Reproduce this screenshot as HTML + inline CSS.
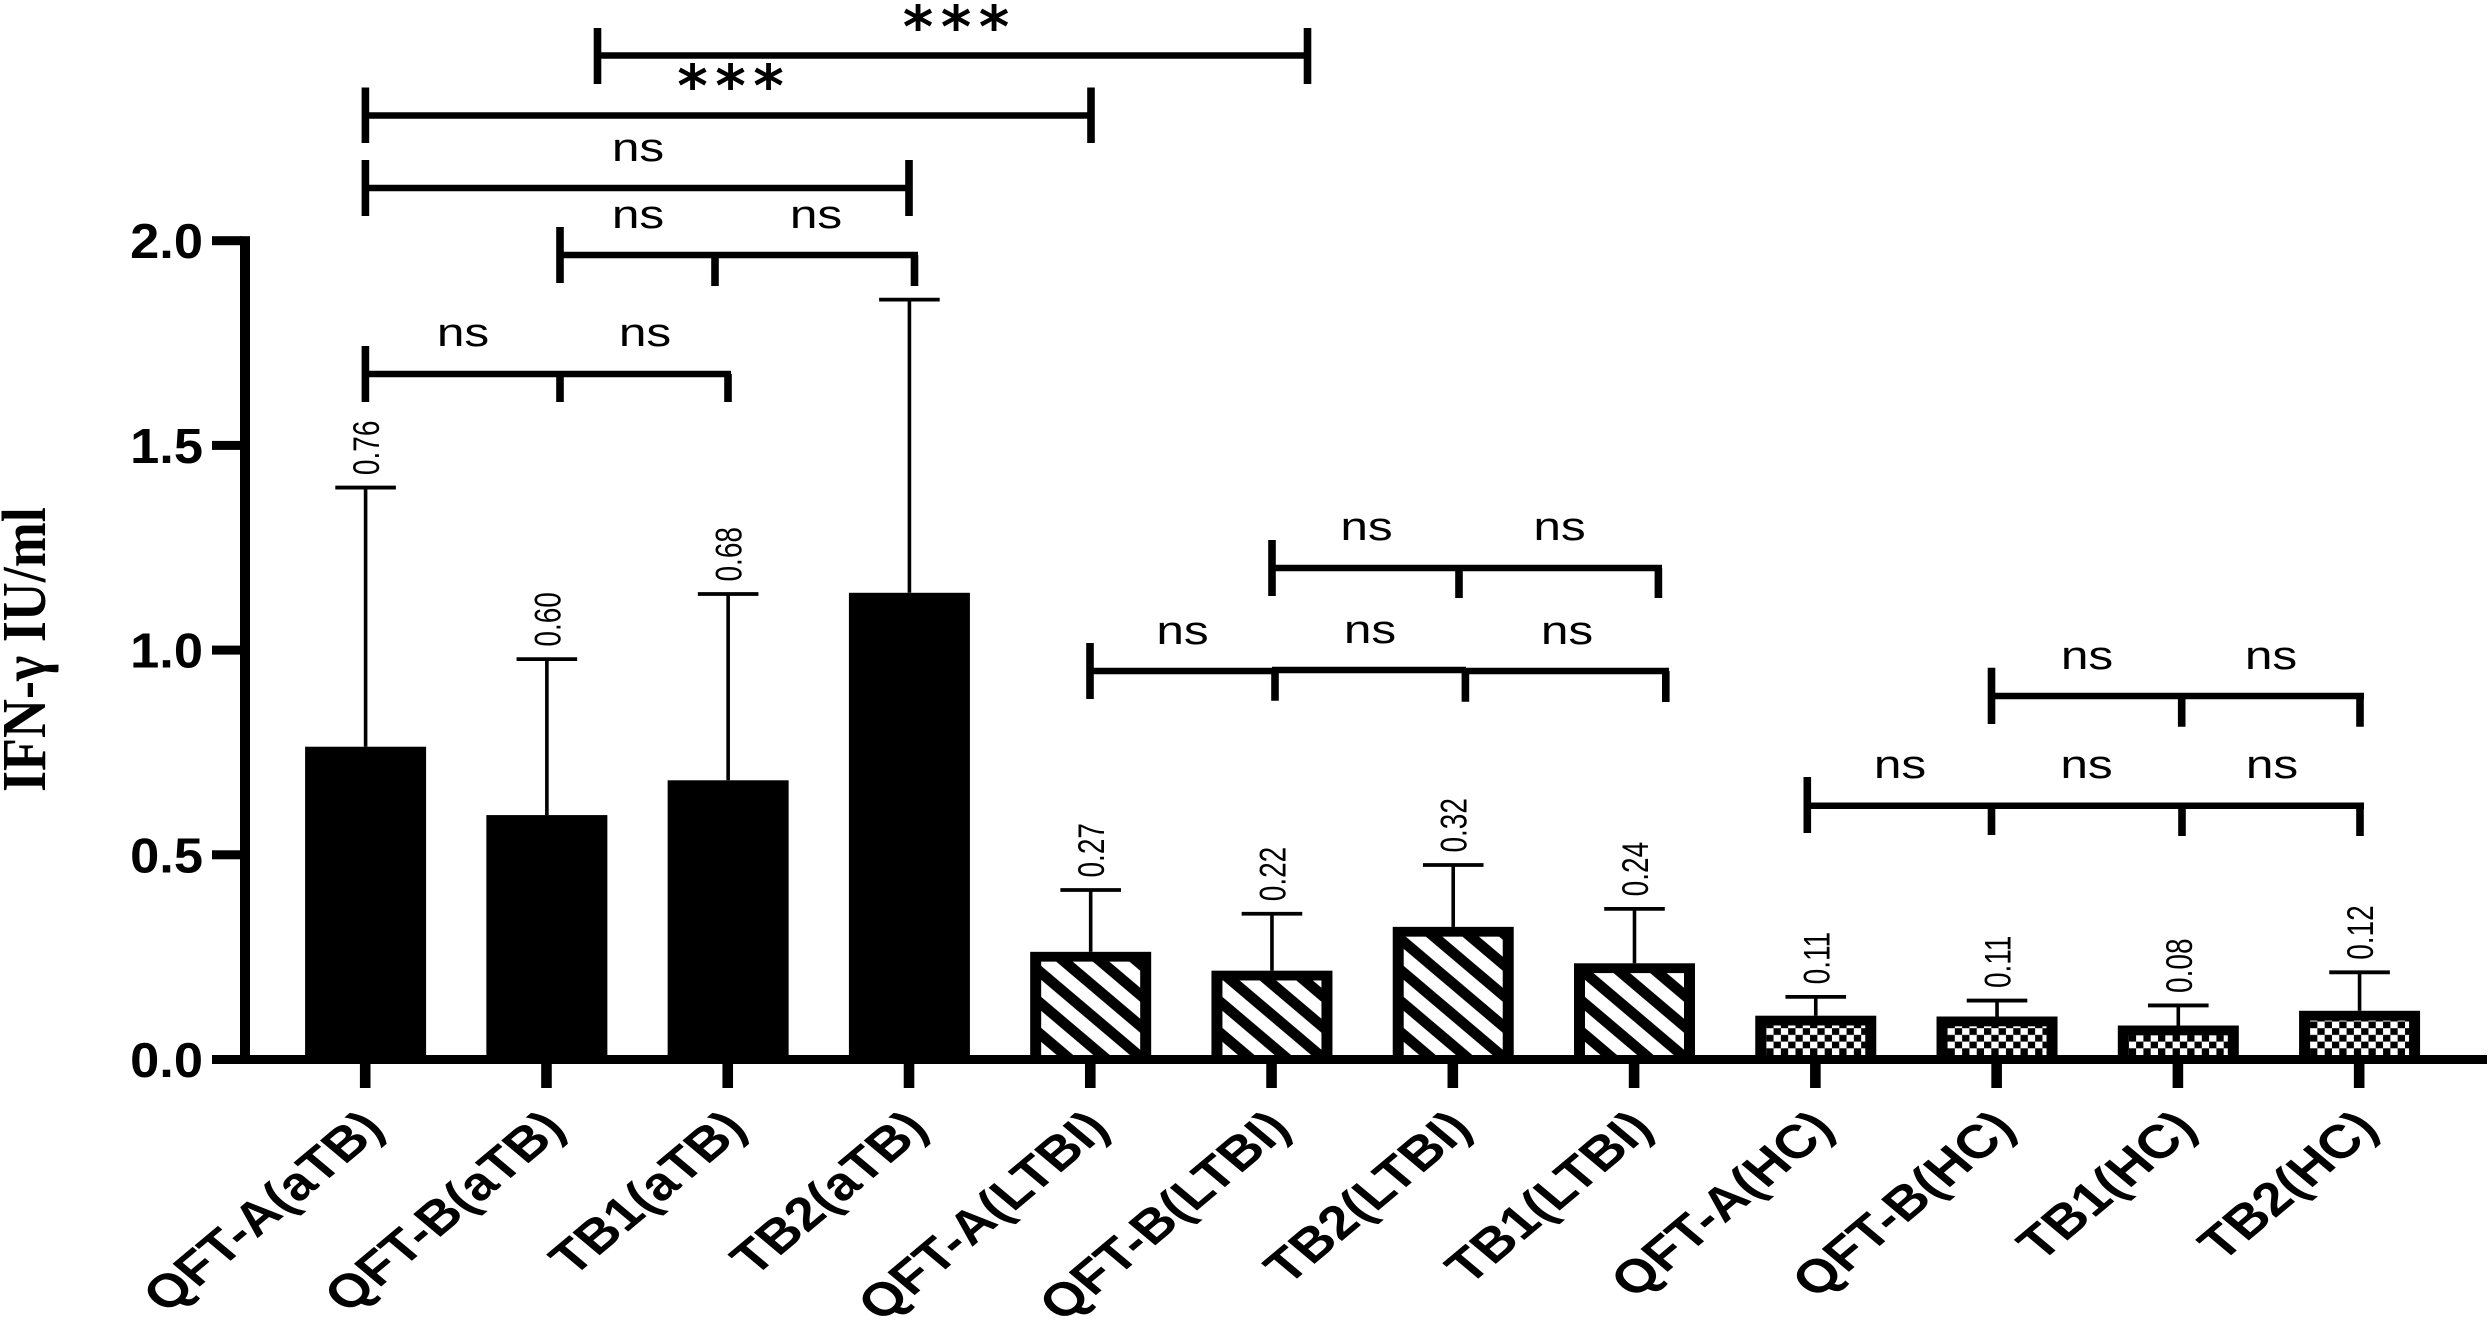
<!DOCTYPE html>
<html>
<head>
<meta charset="utf-8">
<title>IFN-γ bar chart</title>
<style>
html,body{margin:0;padding:0;background:#fff;}
svg{display:block;}
text{fill:#000;font-family:"Liberation Sans",sans-serif;}
.h,.v{fill:none;stroke:#000;}
.h{stroke-width:6.5;}
.v{stroke-width:7.6;}
.ns{font-size:40px;text-anchor:middle;}
.star{font-family:"DejaVu Sans",sans-serif;font-weight:bold;font-size:58px;text-anchor:middle;}
</style>
</head>
<body>
<svg id="chart" xmlns="http://www.w3.org/2000/svg" width="2492" height="1324" viewBox="0 0 2492 1324">
<defs id="defs"></defs>
<rect x="0" y="0" width="2492" height="1324" fill="#fff"/>
<text transform="translate(45,792) scale(1.15,1) rotate(-90)" style="font-family:'Liberation Serif',serif;font-weight:bold;font-size:54px">IFN-γ IU/ml</text>
<g id="bars"></g>
<g id="axes"></g>

<g>
  <g>
    <path class="h" d="M597.5 55.5H1308"/><path class="v" d="M597.5 28V84M1307.5 28V84"/>
  </g>
  <text class="star" transform="translate(918,47)">*</text>
  <text class="star" transform="translate(956,47)">*</text>
  <text class="star" transform="translate(994,47)">*</text>

  <g>
    <path class="h" d="M365.4 115.5H1091"/><path class="v" d="M365.4 87.5V143M1091 87.5V143"/>
  </g>
  <text class="star" transform="translate(692.5,106)">*</text>
  <text class="star" transform="translate(730.5,106)">*</text>
  <text class="star" transform="translate(768.5,106)">*</text>

  <g>
    <path class="h" d="M365.4 188H909"/><path class="v" d="M365.4 160V216M909 160V216"/>
  </g>
  <text class="ns" transform="translate(638,161) scale(1.24,1)">ns</text>

  <g>
    <path class="h" d="M560 255H918"/><path class="v" d="M560 227V283M715 255V286M914.5 255V286"/>
  </g>
  <text class="ns" transform="translate(638,228) scale(1.24,1)">ns</text>
  <text class="ns" transform="translate(816,228) scale(1.24,1)">ns</text>

  <g>
    <path class="h" d="M365.4 374H731"/><path class="v" d="M365.4 346V402M560 374V402M728 374V402"/>
  </g>
  <text class="ns" transform="translate(463,346) scale(1.24,1)">ns</text>
  <text class="ns" transform="translate(645,346) scale(1.24,1)">ns</text>

  <g>
    <path class="h" d="M1272 568H1662"/><path class="v" d="M1272 540V596M1459 568V598M1658.4 568V598"/>
  </g>
  <text class="ns" transform="translate(1366.5,540) scale(1.24,1)">ns</text>
  <text class="ns" transform="translate(1559.5,540) scale(1.24,1)">ns</text>

  <g>
    <path class="h" d="M1090 671H1272M1272 670H1466M1466 671H1669"/><path class="v" d="M1090 643V699M1275 671V700.7M1465.4 671V701.7M1665.8 671V702"/>
  </g>
  <text class="ns" transform="translate(1182.5,644) scale(1.24,1)">ns</text>
  <text class="ns" transform="translate(1370,643) scale(1.24,1)">ns</text>
  <text class="ns" transform="translate(1567,644) scale(1.24,1)">ns</text>

  <g>
    <path class="h" d="M1991.5 696H2364"/><path class="v" d="M1991.5 667.7V724M2181.7 696V726.7M2360 696V726.7"/>
  </g>
  <text class="ns" transform="translate(2087,669) scale(1.24,1)">ns</text>
  <text class="ns" transform="translate(2271,669) scale(1.24,1)">ns</text>

  <g>
    <path class="h" d="M1807.3 805.7H2364"/><path class="v" d="M1807.3 777V833M1991.5 805.7V835M2182 805.7V836M2360 805.7V836"/>
  </g>
  <text class="ns" transform="translate(1900,778) scale(1.24,1)">ns</text>
  <text class="ns" transform="translate(2086.5,778) scale(1.24,1)">ns</text>
  <text class="ns" transform="translate(2272,778) scale(1.24,1)">ns</text>
</g>
</svg>

<script>
const categories = ["QFT-A(aTB)","QFT-B(aTB)","TB1(aTB)","TB2(aTB)","QFT-A(LTBI)","QFT-B(LTBI)","TB2(LTBI)","TB1(LTBI)","QFT-A(HC)","QFT-B(HC)","TB1(HC)","TB2(HC)"];
const meanValues = [0.764,0.597,0.682,1.14,0.263,0.217,0.324,0.235,0.107,0.105,0.083,0.119];
const errorTops = [1.397,0.978,1.137,1.856,0.414,0.356,0.475,0.368,0.153,0.144,0.132,0.213];
const printedValues = ["0.76","0.60","0.68","","0.27","0.22","0.32","0.24","0.11","0.11","0.08","0.12"];
const fillKinds = ["solid","solid","solid","solid","hatch","hatch","hatch","hatch","check","check","check","check"];
const yTicks = [0,0.5,1,1.5,2];
const yTickLabels = ["0.0","0.5","1.0","1.5","2.0"];

const NS = "http://www.w3.org/2000/svg";
const yZero = 1059.5, yPerUnit = 409.4;
const xFirst = 365.2, xStep = 181.27;
const barW = 121, barBase = 1055;
function xScale(i){ return xFirst + xStep * i; }
function yScale(v){ return yZero - yPerUnit * v; }
function mk(tag, attrs, parent){
  const el = document.createElementNS(NS, tag);
  for (const k in attrs) el.setAttribute(k, attrs[k]);
  parent.appendChild(el);
  return el;
}
const defs = document.getElementById("defs");
const bars = document.getElementById("bars");
const axes = document.getElementById("axes");

function makeHatch(id, ox){
  const p = mk("pattern", {id:id, patternUnits:"userSpaceOnUse", width:36.6, height:31, patternTransform:"translate("+ox+","+barBase+")"}, defs);
  mk("rect", {x:0,y:0,width:36.6,height:31,fill:"#fff"}, p);
  mk("polygon", {points:"0,0 16.5,0 53.1,31 36.6,31", fill:"#000"}, p);
  mk("polygon", {points:"-36.6,0 -20.1,0 16.5,31 0,31", fill:"#000"}, p);
}
function makeCheck(id, ox){
  const p = mk("pattern", {id:id, patternUnits:"userSpaceOnUse", width:14.6, height:13.4, patternTransform:"translate("+ox+","+barBase+")"}, defs);
  mk("rect", {x:0,y:0,width:14.6,height:13.4,fill:"#fff"}, p);
  mk("rect", {x:7.3,y:0,width:7.3,height:6.7,fill:"#000"}, p);
  mk("rect", {x:0,y:6.7,width:7.3,height:6.7,fill:"#000"}, p);
}

categories.forEach(function(name, i){
  const cx = xScale(i) + 0.4;
  const top = yScale(meanValues[i]);
  const capY = yScale(errorTops[i]);
  const x0 = cx - barW / 2;

  const whisker = mk("line", {x1:cx, x2:cx, y1:capY, y2:top, stroke:"#000", "stroke-width":3.6}, bars);
  
  

  const cap = mk("line", {x1:cx-30.3, x2:cx+30.3, y1:capY, y2:capY, stroke:"#000", "stroke-width":3.8}, bars);
  
  

  const bar = mk("rect", {x:x0, y:top, width:barW, height:yZero-top, fill:"#000"}, bars);
  
  

  if (fillKinds[i] !== "solid") {
    const id = "fill-" + i;
    const innerX = x0 + 11;
    if (fillKinds[i] === "hatch") makeHatch(id, innerX + 15.5);
    else makeCheck(id, innerX);
    const inner = mk("rect", {x:innerX, y:top+9.8, width:barW-22, height:Math.max(0,barBase-top-9.8), fill:"url(#"+id+")"}, bars);
    
    
  }

  if (printedValues[i]) {
    const label = mk("text", {transform:"translate("+(cx+13.5)+","+(capY-12.5)+") scale(1.33,1) rotate(-90)", "font-size":28}, bars);
    label.textContent = printedValues[i];
    
    
  }

  const tick = mk("rect", {x:xScale(i)-5.3, y:yZero, width:10.6, height:28.5, fill:"#000"}, axes);
  
  

  const catLabel = mk("text", {transform:"translate("+(xScale(i)+21)+",1130.5) scale(1.23,1.03) rotate(-45)", "font-size":45.5, "font-weight":"bold", "text-anchor":"end"}, axes);
  catLabel.textContent = name;
  
  
});

const yAxisLine = mk("rect", {x:240, y:yScale(2)-4.5, width:10, height:yZero+4.5-(yScale(2)-4.5), fill:"#000"}, axes);



const xAxisLine = mk("rect", {x:212, y:yZero-4.5, width:2275, height:9, fill:"#000"}, axes);



yTicks.forEach(function(v, i){
  const y = yScale(v);
  const t = mk("rect", {x:212, y:y-4.5, width:30, height:9, fill:"#000"}, axes);
  
  

  const lab = mk("text", {transform:"translate(203,"+(y+17.5)+") scale(1.07,1)", "font-size":49, "font-weight":"bold", "text-anchor":"end"}, axes);
  lab.textContent = yTickLabels[i];
  
  
});
</script>
</body>
</html>
